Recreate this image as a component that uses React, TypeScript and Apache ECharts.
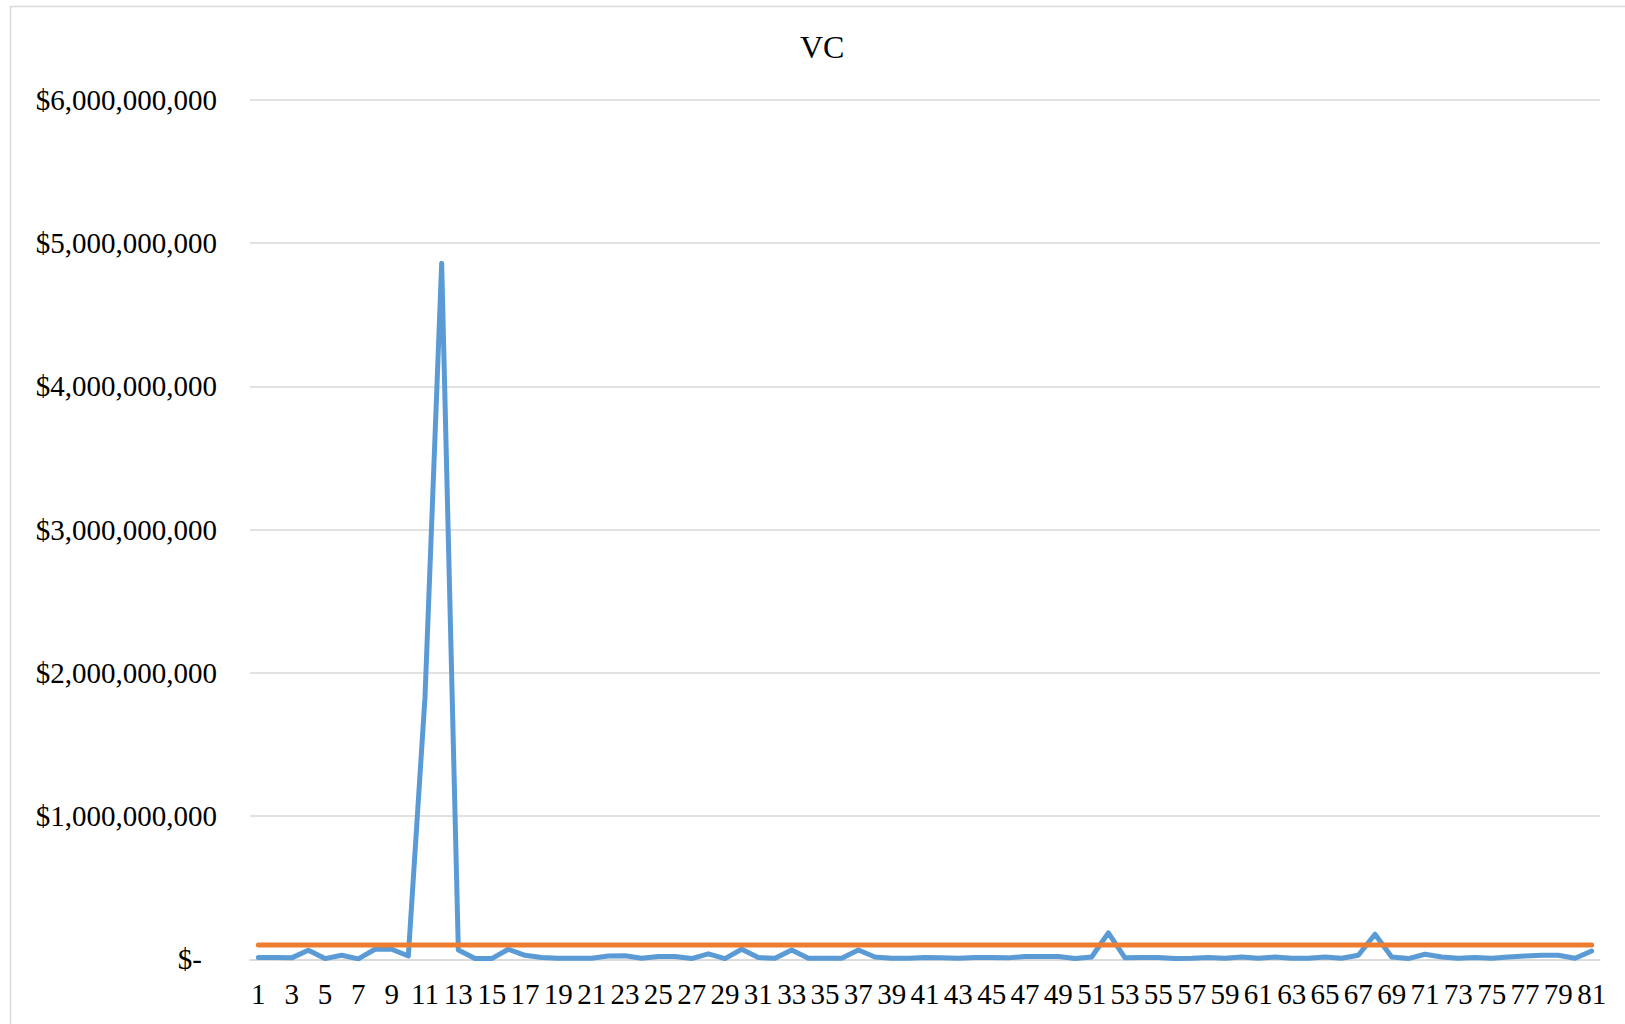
import React, { useEffect, useRef } from "react";
import * as echarts from "echarts";

const categories: string[] = Array.from({ length: 81 }, (_, i) => String(i + 1));

// VC amounts in millions of dollars
const vcMillions: number[] = [
  12, 12, 10, 63, 5, 28, 3, 70, 70, 23,
  1830, 4860, 65, 5, 5, 70, 28, 12, 7, 7,
  7, 23, 25, 7, 20, 20, 5, 38, 5, 70,
  12, 7, 65, 7, 7, 7, 65, 16, 7, 7,
  12, 10, 7, 12, 12, 10, 20, 20, 20, 5,
  16, 185, 10, 12, 12, 5, 7, 12, 7, 16,
  7, 16, 7, 7, 16, 7, 28, 175, 16, 5,
  35, 16, 7, 12, 7, 16, 23, 28, 28, 7,
  58,
];

const referenceMillions = 100;

const yTicks = { min: 0, max: 6000000000, interval: 1000000000 };

const FONT = "'Liberation Serif', 'Times New Roman', serif";

export default function App() {
  const ref = useRef<HTMLDivElement>(null);

  useEffect(() => {
    if (!ref.current) return;
    const chart = echarts.init(ref.current, undefined, { renderer: "svg" });
    const blue = vcMillions.map((v) => v * 1000000);
    const orange = categories.map(() => referenceMillions * 1000000);
    chart.setOption({
      animation: false,
      backgroundColor: "#ffffff",
      textStyle: { fontFamily: FONT },
      title: {
        text: "VC",
        left: 795,
        top: 26,
        textStyle: { fontFamily: FONT, fontSize: 32, fontWeight: "normal", color: "#000" },
      },
      graphic: [
        {
          type: "rect",
          shape: { x: 10.5, y: 6.5, width: 1700, height: 1100 },
          style: { fill: "none", stroke: "#d9d9d9", lineWidth: 1.5 },
          silent: true,
        },
      ],
      grid: { left: 250, right: 25, top: 100, bottom: 64.7, containLabel: false },
      xAxis: {
        type: "category",
        data: categories,
        boundaryGap: true,
        axisLine: { show: true, lineStyle: { color: "#d9d9d9", width: 1.5 } },
        axisTick: { show: false },
        axisLabel: {
          interval: 1,
          margin: 20,
          fontFamily: FONT,
          fontSize: 29,
          color: "#000",
        },
        splitLine: { show: false },
      },
      yAxis: {
        type: "value",
        min: yTicks.min,
        max: yTicks.max,
        interval: yTicks.interval,
        axisLine: { show: false },
        axisTick: { show: false },
        splitLine: { show: true, lineStyle: { color: "#d9d9d9", width: 1.5 } },
        axisLabel: {
          margin: 33,
          fontFamily: FONT,
          fontSize: 29,
          color: "#000",
          formatter: (v: number) =>
            v === 0 ? "{z|$-}" : "$" + v.toLocaleString("en-US"),
          rich: {
            z: { fontFamily: FONT, fontSize: 29, color: "#000", padding: [0, 15, 0, 0] },
          },
        },
      },
      series: [
        {
          name: "VC",
          type: "line",
          data: blue,
          showSymbol: false,
          symbol: "none",
          lineStyle: { color: "#5B9BD5", width: 5, cap: "round", join: "round" },
          itemStyle: { color: "#5B9BD5" },
          z: 2,
        },
        {
          name: "Reference",
          type: "line",
          data: orange,
          showSymbol: false,
          symbol: "none",
          lineStyle: { color: "#ED7D31", width: 5, cap: "round", join: "round" },
          itemStyle: { color: "#ED7D31" },
          z: 3,
        },
      ],
    });
    return () => chart.dispose();
  }, []);

  return (
    <div
      ref={ref}
      style={{ position: "fixed", left: 0, top: 0, width: 1625, height: 1024, background: "#fff" }}
    />
  );
}
